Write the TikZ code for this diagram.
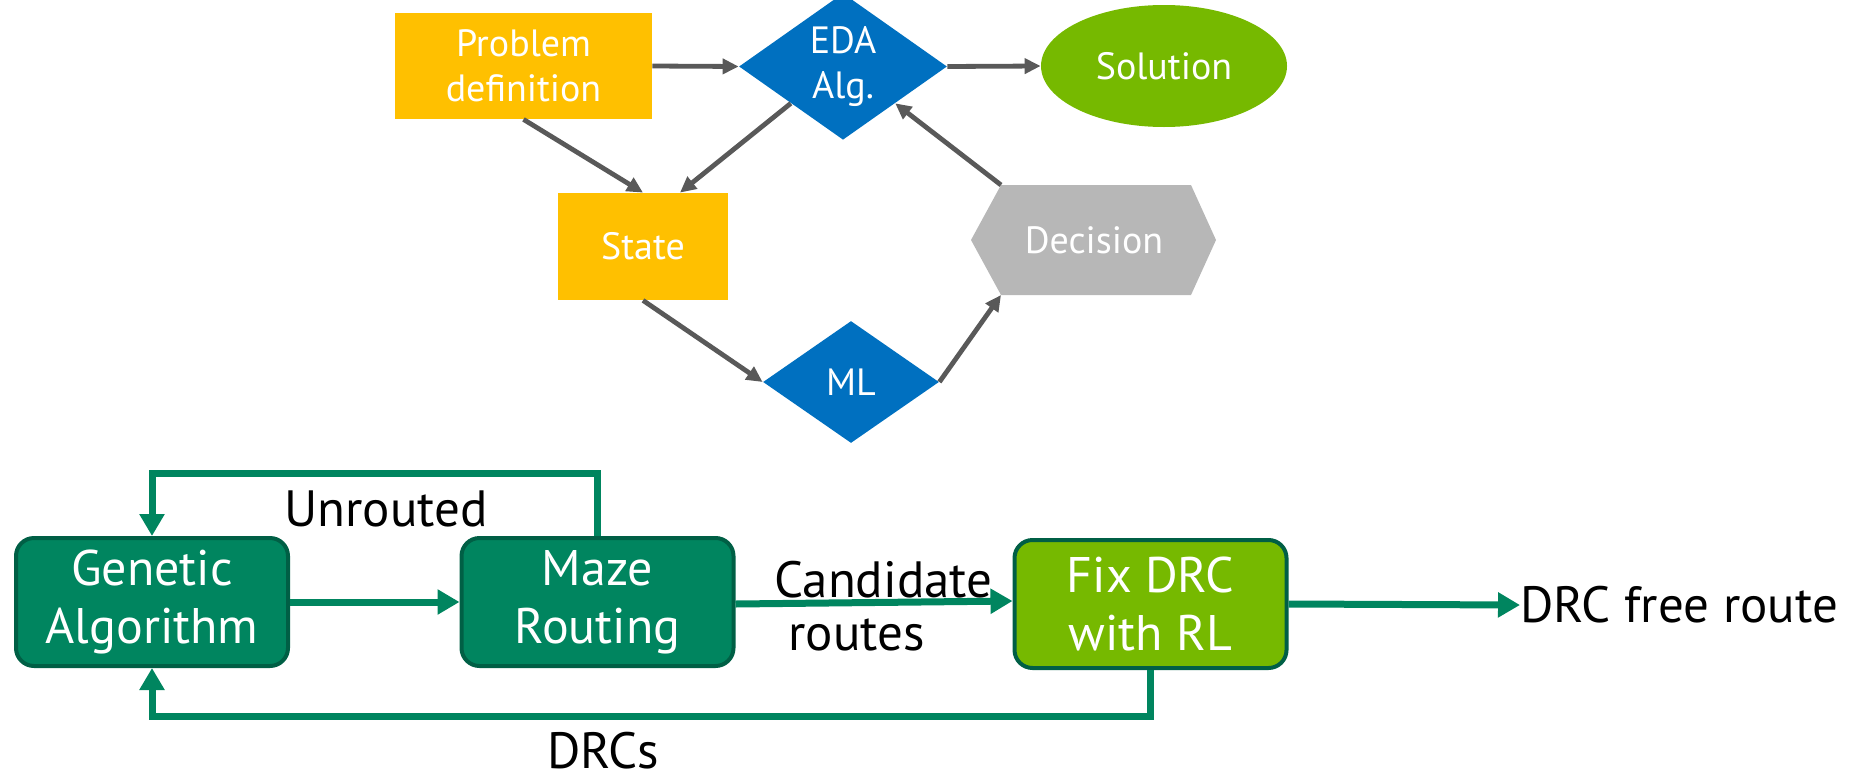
\documentclass[tikz,border=0pt]{standalone}
\usepackage{fontspec}
\setmainfont{PT Sans}
\usetikzlibrary{arrows.meta,shapes.geometric,calc}

\definecolor{boxyellow}{HTML}{FFC000}
\definecolor{boxblue}{HTML}{0070C0}
\definecolor{nvgreen}{HTML}{76B900}
\definecolor{decgray}{HTML}{B7B7B7}
\definecolor{linegray}{HTML}{595959}
\definecolor{teal}{HTML}{00855F}
\definecolor{darkteal}{HTML}{005F45}

\tikzset{
  toptext/.style={text=white, align=center, font=\fontsize{19}{22.5}\selectfont},
  ybox/.style={toptext, rectangle, fill=boxyellow, inner sep=0pt},
  bdiam/.style={toptext, diamond, fill=boxblue, inner sep=0pt, aspect=1},
  garrow/.style={draw=linegray, line width=2.4pt, -{Triangle[length=8pt,width=7.5pt]}},
  stagebox/.style={rectangle, rounded corners=9pt, draw=darkteal, line width=2pt,
    text=white, align=center, font=\fontsize{25}{29}\selectfont,
    minimum width=136pt, minimum height=64pt, inner sep=0pt},
  tarrow/.style={draw=teal, line width=3.5pt, -{Triangle[length=11pt,width=12pt]}},
  btext/.style={text=black, font=\fontsize{25.5}{29}\selectfont, inner sep=0pt},
}

\begin{document}
\begin{tikzpicture}[x=0.5pt,y=-0.5pt]
\useasboundingbox (0,0) rectangle (1861,776);

% ---- upper flow: problem, algorithm, learned decision loop ----
\node[ybox, minimum width=128.5pt, minimum height=53pt] (prob) at (523.5,66) {Problem\\definition};
\node[bdiam, minimum width=104pt, minimum height=61.5pt] (eda) at (843,66.5) {EDA\\Alg.};
\node[toptext, ellipse, fill=nvgreen, inner sep=0pt, minimum width=123pt, minimum height=61pt] (sol) at (1164,66) {Solution};
\node[ybox, minimum width=85pt, minimum height=53.5pt] (state) at (643,246.5) {State};
\node[bdiam, minimum width=88pt, minimum height=61pt] (ml) at (851,382) {ML};

% hexagonal decision block
\coordinate (dectl) at (1001,185);
\coordinate (dectr) at (1191,185);
\coordinate (decr) at (1216,240);
\coordinate (decbr) at (1191,295);
\coordinate (decbl) at (1001,295);
\coordinate (decl) at (971,240);
\fill[decgray] (decl) -- (dectl) -- (dectr) -- (decr) -- (decbr) -- (decbl) -- cycle;
\node[toptext] (dec) at (1094,240) {Decision};

\draw[garrow] (prob.east) -- (eda.west);
\draw[garrow] (eda.east) -- (sol.west);
\draw[garrow] (prob.south) -- (state.north);
\draw[garrow] (eda.south west) -- ([xshift=18.5pt]state.north);
\draw[garrow] (state.south) -- (ml.west);
\draw[garrow] (ml.east) -- (decbl);
\draw[garrow] (dectl) -- (eda.south east);

% ---- lower flow: routing pipeline ----
\node[stagebox, fill=teal] (gen) at (152,602) {Genetic\\Algorithm};
\node[stagebox, fill=teal] (maze) at (597.5,602) {Maze\\Routing};
\node[stagebox, fill=nvgreen] (fix) at (1150.5,604) {Fix DRC\\with RL};
\node[btext, anchor=west] (out) at (1520,605) {DRC free route};

\draw[tarrow] (gen.east) -- (maze.west);
\draw[tarrow] ([yshift=-1pt]maze.east) -- ([yshift=1.5pt]fix.west);
\draw[tarrow] (fix.east) -- (out.west);
\draw[tarrow] (maze.north) -- ++(0,-63) -| (gen.north);
\draw[tarrow] (fix.south) -- ++(0,46) -| (gen.south);

\node[btext, anchor=base] (unrouted) at (386,526) {Unrouted};
\node[btext, anchor=base] (drcs) at (603,768) {DRCs};
\node[btext, anchor=base west] (cand) at (774,597) {Candidate};
\node[btext, anchor=base west] (routes) at (788,650) {routes};
\end{tikzpicture}
\end{document}
